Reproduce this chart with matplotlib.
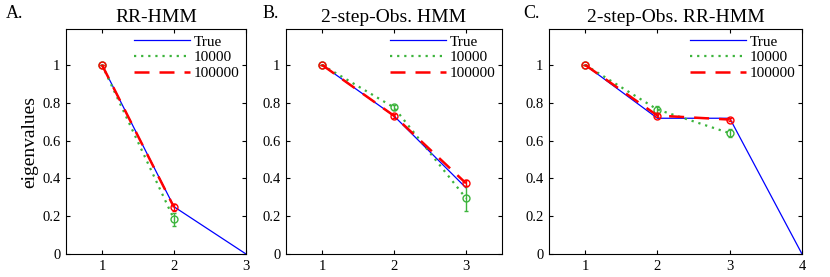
import matplotlib
matplotlib.use("Agg")
import matplotlib.pyplot as plt
from matplotlib.lines import Line2D

plt.rcParams['font.family'] = ['Liberation Serif', 'DejaVu Serif']

# data
titles = ["RR-HMM", "2-step-Obs. HMM", "2-step-Obs. RR-HMM"]
letters = ["A.", "B.", "C."]
legend_labels = ["True", "10000", "100000"]

true_a = [1.0, 0.25, 0.0]
est10k_a = [1.0, 0.184]
err10k_a = [0.0, 0.035]
est100k_a = [1.0, 0.247]
err100k_a = [0.0, 0.02]

true_b = [1.0, 0.73, 0.35]
est10k_b = [1.0, 0.775, 0.295]
err10k_b = [0.0, 0.015, 0.066]
est100k_b = [1.0, 0.731, 0.374]
err100k_b = [0.0, 0.01, 0.015]

true_c = [1.0, 0.718, 0.718, 0.0]
est10k_c = [1.0, 0.764, 0.639]
err10k_c = [0.0, 0.02, 0.02]
est100k_c = [1.0, 0.732, 0.711]
err100k_c = [0.0, 0.01, 0.008]

yticks = [0, 0.2, 0.4, 0.6, 0.8, 1]
ytick_labels = ["0", "0.2", "0.4", "0.6", "0.8", "1"]

panels = [
    (true_a, est10k_a, err10k_a, est100k_a, err100k_a, (0.5, 3)),
    (true_b, est10k_b, err10k_b, est100k_b, err100k_b, (0.5, 3.5)),
    (true_c, est10k_c, err10k_c, est100k_c, err100k_c, (0.5, 4)),
]
# axes rectangles in figure fractions
rects = [
    [66 / 830, 23 / 277, 180 / 830, 225 / 277],
    [286 / 830, 23 / 277, 216 / 830, 225 / 277],
    [549 / 830, 23 / 277, 253 / 830, 225 / 277],
]
letter_x = [6 / 830, 263 / 830, 523 / 830]

blue = "#0000ff"
green = "#3cb43c"
red = "#ff0000"
dotted = (0, (1, 2.2))
dashed = (0, (6, 4))

fig = plt.figure(figsize=(8.3, 2.77), dpi=100)

for i, (tr, e1, s1, e2, s2, xl) in enumerate(panels):
    ax = fig.add_axes(rects[i])
    x_true = list(range(1, len(tr) + 1))
    x_est = list(range(1, len(e1) + 1))
    ax.plot(x_true, tr, color=blue, lw=0.9)
    ax.errorbar(x_est, e1, yerr=s1, color=green, ls=dotted, lw=1.6,
                marker="o", ms=5, mfc="none", mew=1, elinewidth=1,
                capsize=1.5)
    ax.errorbar(x_est, e2, yerr=s2, color=red, ls=dashed, lw=1.8,
                marker="o", ms=5, mfc="none", mew=1, elinewidth=1,
                capsize=1.5)
    ax.set_xlim(*xl)
    ax.set_ylim(0, 1.19)
    ax.set_xticks(x_true)
    ax.set_yticks(yticks)
    ax.set_yticklabels(ytick_labels)
    ax.tick_params(direction="in", top=True, right=True, labelsize=10.5,
                   length=3, width=0.8, pad=4)
    for sp in ax.spines.values():
        sp.set_linewidth(0.8)
    ax.set_title(titles[i], fontsize=14, pad=5)
    handles = [
        Line2D([], [], color=blue, lw=0.9),
        Line2D([], [], color=green, ls=dotted, lw=1.6),
        Line2D([], [], color=red, ls=dashed, lw=1.8),
    ]
    ax.legend(handles, legend_labels, frameon=False, loc="upper right",
              fontsize=11, handlelength=3.7, handletextpad=0.25,
              labelspacing=0.12, borderaxespad=0.1, borderpad=0.3)
    if i == 0:
        ax.set_ylabel("eigenvalues", fontsize=14, labelpad=3)
    fig.text(letter_x[i], 0.935, letters[i], fontsize=13)

fig.savefig("out.png", dpi=100)
